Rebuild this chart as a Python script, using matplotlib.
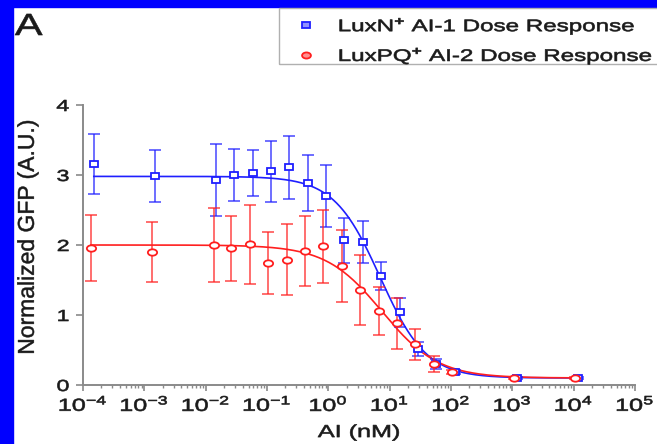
import numpy as np
import matplotlib
matplotlib.use("Agg")
import matplotlib.pyplot as plt
from matplotlib.markers import MarkerStyle
from matplotlib.patches import Rectangle
from matplotlib.patheffects import AbstractPathEffect
from matplotlib.ticker import LogLocator, NullFormatter
from matplotlib.transforms import Affine2D

plt.rcParams['font.family'] = ['Liberation Sans', 'DejaVu Sans']
plt.rcParams['mathtext.fontset'] = 'custom'
plt.rcParams['mathtext.rm'] = 'Liberation Sans'
plt.rcParams['mathtext.it'] = 'Liberation Sans:italic'
plt.rcParams['mathtext.bf'] = 'Liberation Sans:bold'

# AI-1 (LuxN) dose response, nM
conc_n = [0.00015, 0.0015, 0.015, 0.029, 0.059, 0.117, 0.23, 0.47, 0.92,
          1.8, 3.7, 7.3, 14.5, 29, 58, 115, 1170, 11700]
gfp_n = [3.16, 2.99, 2.93, 3.00, 3.03, 3.05, 3.11, 2.89, 2.70,
         2.07, 2.04, 1.56, 1.04, 0.52, 0.30, 0.19, 0.10, 0.10]
err_n = [0.43, 0.37, 0.51, 0.37, 0.33, 0.43, 0.45, 0.40, 0.44,
         0.32, 0.30, 0.20, 0.21, 0.10, 0.07, 0.03, 0.02, 0.02]

# AI-2 (LuxPQ) dose response, nM
conc_pq = [0.000135, 0.00135, 0.0135, 0.026, 0.053, 0.105, 0.21, 0.42, 0.83,
           1.65, 3.3, 6.6, 13, 26, 52, 104, 1050, 10500]
gfp_pq = [1.96, 1.90, 2.00, 1.95, 2.01, 1.74, 1.79, 1.92, 1.98,
          1.70, 1.36, 1.06, 0.88, 0.58, 0.30, 0.19, 0.10, 0.10]
err_pq = [0.47, 0.43, 0.53, 0.46, 0.56, 0.44, 0.51, 0.50, 0.52,
          0.52, 0.50, 0.34, 0.36, 0.22, 0.11, 0.03, 0.02, 0.02]

# fitted dose-response (top, bottom, EC50 nM, hill slope)
fit_n = (2.98, 0.10, 7.0, 1.15)
fit_pq = (2.00, 0.10, 7.5, 0.95)

labels = ['LuxN$^{\\mathbf{+}}$ AI-1 Dose Response',
          'LuxPQ$^{\\mathbf{+}}$ AI-2 Dose Response']
xticks = [1e-4, 1e-3, 1e-2, 1e-1, 1e0, 1e1, 1e2, 1e3, 1e4, 1e5]
yticks = [0, 1, 2, 3, 4]

BLUE = '#1f1fff'
RED = '#ff1f1f'
INK = '#1a1a1a'
GREY = '#8a8a8a'
SX = 1.45  # the source image is stretched sideways


class HStretch(AbstractPathEffect):
    """widen drawn text sideways around one edge or its centre, a bit heavier"""
    def __init__(self, sx, anchor='center', lw=0.45):
        super().__init__()
        self.sx = sx
        self.anchor = anchor
        self.lw = lw

    def draw_path(self, renderer, gc, tpath, affine, rgbFace=None):
        bb = tpath.get_extents(affine)
        x0 = {'left': bb.x0, 'right': bb.x1}.get(self.anchor, 0.5 * (bb.x0 + bb.x1))
        st = Affine2D().translate(-x0, 0).scale(self.sx, 1).translate(x0, 0)
        gc0 = renderer.new_gc()
        gc0.copy_properties(gc)
        if rgbFace is not None:
            gc0.set_foreground(rgbFace)
        gc0.set_linewidth(self.lw)
        renderer.draw_path(gc0, tpath, affine + st, rgbFace)
        gc0.restore()


def hill(x, top, bottom, ec50, h):
    return bottom + (top - bottom) / (1 + (x / ec50) ** h)


W, H = 657, 444
fig = plt.figure(figsize=(W / 100, H / 100), dpi=100)
ax = fig.add_axes([83 / W, 1 - 385 / H, 552 / W, 280 / H])

# blue page frame
fig.patches.append(Rectangle((0, 0), 13 / W, 1, transform=fig.transFigure,
                             color='#0000ff', zorder=0))
fig.patches.append(Rectangle((0, 1 - 7 / H), 1, 7 / H, transform=fig.transFigure,
                             color='#0000ff', zorder=0))

sq = MarkerStyle('s', transform=Affine2D().scale(SX, 1))
ci = MarkerStyle('o', transform=Affine2D().scale(SX, 1))

for conc, gfp, err, fit, col, mk, ms in [
        (conc_n, gfp_n, err_n, fit_n, BLUE, sq, 4.2),
        (conc_pq, gfp_pq, err_pq, fit_pq, RED, ci, 4.6)]:
    xs = np.logspace(np.log10(conc[0]), np.log10(conc[-1]), 300)
    ax.plot(xs, hill(xs, *fit), color=col, lw=1.2, zorder=2)
    ax.errorbar(conc, gfp, yerr=err, fmt='none', ecolor=col, alpha=0.7,
                elinewidth=1.3, capsize=4.5, capthick=1.3, zorder=3)
    ax.plot(conc, gfp, linestyle='none', marker=mk, ms=ms, mew=1.3,
            mec=col, mfc='white', zorder=4)

ax.set_xscale('log')
ax.set_xlim(1e-4, 1e5)
ax.set_ylim(0, 4)
ax.set_xticks(xticks)
ax.set_yticks(yticks)
ax.xaxis.set_minor_locator(LogLocator(base=10, subs=np.arange(2, 10), numticks=100))
ax.xaxis.set_minor_formatter(NullFormatter())

for s in ['top', 'right']:
    ax.spines[s].set_visible(False)
for s in ['left', 'bottom']:
    ax.spines[s].set_color(GREY)
    ax.spines[s].set_linewidth(1.4)

ax.tick_params(axis='x', which='major', length=4, width=1.2, color=GREY,
               labelsize=12.5, labelcolor=INK, pad=2.5)
ax.tick_params(axis='x', which='minor', length=2.5, width=1.0, color=GREY)
ax.tick_params(axis='y', length=5, width=1.2, color=GREY,
               labelsize=11.5, labelcolor=INK, pad=5)

for t in ax.get_xticklabels():
    t.set_path_effects([HStretch(SX, 'center')])
for t in ax.get_yticklabels():
    t.set_path_effects([HStretch(SX, 'right')])

xl = ax.set_xlabel('AI (nM)', fontsize=12.5, color=INK, labelpad=8)
xl.set_path_effects([HStretch(SX, 'center')])
yl = ax.set_ylabel('Normalized GFP (A.U.)', fontsize=16.5, color=INK)
yl.set_path_effects([HStretch(1.0, 'center', lw=0.35)])
ax.yaxis.set_label_coords(-0.08, 0.527)

pa = fig.text(15 / W, 1 - 35 / H, 'A', fontsize=22, color=INK,
              ha='left', va='baseline')
pa.set_path_effects([HStretch(1.35, 'left')])

# legend frame runs off the right edge of the picture
fig.patches.append(Rectangle((279 / W, 1 - 64 / H), 500 / W, 56 / H,
                             transform=fig.transFigure, fill=False,
                             edgecolor='#b0b0b0', lw=1.0, zorder=1))
handles = [plt.Line2D([], [], ls='none', marker=sq, ms=4.0, mew=1.3,
                      mec=BLUE, mfc='#9090ff'),
           plt.Line2D([], [], ls='none', marker=ci, ms=4.4, mew=1.3,
                      mec=RED, mfc='#ff9090')]
leg = fig.legend(handles, labels, loc='upper left',
                 bbox_to_anchor=(297.5 / W, 1 - 15 / H), frameon=False,
                 fontsize=12, handlelength=1.0, handletextpad=1.45,
                 labelspacing=0.45, borderpad=0, borderaxespad=0)
for t in leg.get_texts():
    t.set_color(INK)
    t.set_path_effects([HStretch(SX, 'left')])

fig.savefig('out.png', dpi=100)
